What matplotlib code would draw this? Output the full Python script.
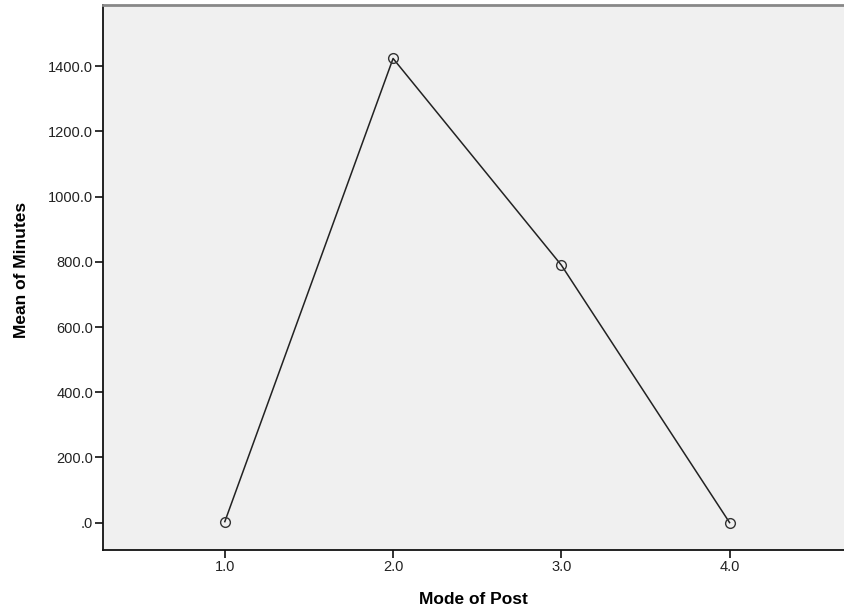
import matplotlib.pyplot as plt
from matplotlib.ticker import FuncFormatter

plt.rcParams['font.family'] = ['Liberation Sans', 'DejaVu Sans']

# data
modes = [1.0, 2.0, 3.0, 4.0]
mean_minutes = [3, 1424, 790, 0]
y_ticks = [0, 200, 400, 600, 800, 1000, 1200, 1400]
x_ticks = [1.0, 2.0, 3.0, 4.0]


def fmt_y(v, pos):
    s = '%.1f' % v
    return '.0' if v == 0 else s


fig = plt.figure(figsize=(8.44, 6.11), dpi=100)
ax = fig.add_axes([103 / 844, 1 - 550 / 611, 1 - 103 / 844, 545 / 611])
ax.set_facecolor('#f0f0f0')

ax.plot(modes, mean_minutes, color='#222222', linewidth=1.1,
        marker='o', markersize=7, markerfacecolor='none',
        markeredgecolor='#333333', markeredgewidth=1.0)

ax.set_xlim(0.276, 4.68)
ax.set_ylim(-84, 1588)
ax.set_xticks(x_ticks)
ax.set_xticklabels(['%.1f' % t for t in x_ticks])
ax.set_yticks(y_ticks)
ax.yaxis.set_major_formatter(FuncFormatter(fmt_y))
ax.tick_params(direction='out', length=6, width=1.3, labelsize=10.5,
               colors='#222222', pad=1)

for side in ['left', 'bottom']:
    ax.spines[side].set_color('#111111')
    ax.spines[side].set_linewidth(1.3)
ax.spines['top'].set_color('#888888')
ax.spines['top'].set_linewidth(2)
ax.spines['right'].set_visible(False)

ax.set_xlabel('Mode of Post', fontsize=12.5, fontweight='bold', labelpad=13)
ax.set_ylabel('Mean of Minutes', fontsize=12.5, fontweight='bold')
ax.yaxis.set_label_coords(-0.100, 0.514)

fig.savefig('out.png', dpi=100)
